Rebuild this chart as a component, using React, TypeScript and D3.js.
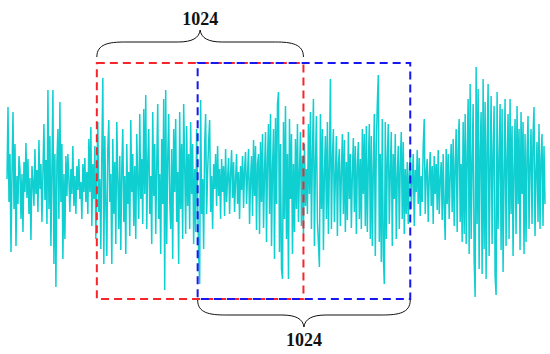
import React, { useEffect, useRef } from 'react';
import * as d3 from 'd3';

// signal amplitude, one sample per pixel column (up = positive)
const signal: number[] = [
  5, 77, -18, 30, -68, 12, 72, -25, 40, -62, 8, -20, 28, 15, -35, 10, -48, 22, -8, 41,
  -14, 25, -30, 6, -56, 18, 2, -22, 35, -10, 14, -28, 44, -5, 20, -38, 12, 60, -16, 24,
  -40, 94, -25, 48, -62, 15, 94, -80, 30, -103, 22, 55, -35, 82, -18, 40, -75, 10, -55, 28,
  -12, 30, 5, -28, 15, -10, 38, -22, 8, -30, 18, -6, 25, -15, 2, -35, 20, -8, 26, -18,
  12, -30, 45, -8, 57, -42, 20, -15, 38, -55, 10, 62, -28, 5, -65, 30, 106, -80, 48, -20,
  -72, 35, 64, -18, 10, -80, 45, -30, 22, -60, 62, 5, -45, 28, -66, 15, 55, -38, 8, -70,
  40, -20, 12, -52, 64, -8, 30, -42, 18, -55, 50, 2, -35, 70, -15, 25, -40, 75, -10, 89,
  -45, 20, 55, -30, 8, -60, 72, -12, 40, -50, 18, 80, -35, 10, -70, 45, -20, 85, -106, 94,
  -60, 25, 70, -15, -45, 35, -75, 55, -8, 65, -38, 12, -80, 72, -25, 40, -55, 80, 20, -50,
  58, -22, 30, -45, 62, -10, 40, -60, 15, -48, 55, -18, -70, -100, 84, -30, 5, -65, 38, 70,
  -30, 12, 42, 64, -28, 8, -45, 20, -5, 30, -22, 38, -12, 15, -35, 25, -8, 18, -32, 35,
  -18, 6, 26, -30, 10, 34, -14, 22, -28, 4, 30, -20, 12, -35, 18, -6, 28, -24, 15, 32,
  -20, 10, 35, -40, 5, 28, -32, 44, -12, 38, -46, 20, 30, -50, 42, -18, 50, -44, 12, 52,
  -58, 25, 60, -30, 70, -62, 15, 55, -75, 66, -20, 80, 92, -68, 40, -85, -95, 62, -35, 78,
  -55, 30, -95, 65, -15, 50, -70, 20, -48, 45, -25, 60, -38, 10, 52, -42, 28, -50, 40, -22,
  15, -30, 60, -10, 72, -45, 30, 85, -62, 20, 68, -38, -58, -83, 70, -25, 55, -66, 10, 48,
  -35, 62, -50, 18, 105, -45, 25, 55, -38, 8, 48, -52, 20, 35, -42, 12, 50, -30, 44, -48,
  22, -36, 52, -15, 30, -44, 10, 46, -28, 38, -50, 18, 42, -35, 25, -45, 55, -10, 50, -42,
  58, -48, 20, 60, -55, 48, -62, 15, 70, -72, 40, 80, 109, -58, 30, -78, 65, -70, -100, 62,
  -55, 25, 60, -40, 12, 52, -62, 30, -15, 50, -55, 8, 38, -45, 20, 52, -35, 42, -50, 15,
  -30, 22, -40, 10, 35, -25, 5, 30, -42, 14, -8, 34, -20, 26, -32, 8, -18, 38, 65, -30,
  12, 25, -38, 6, 32, -22, 18, -40, 28, -10, 20, -26, 34, -30, 5, 22, -36, 30, -24, -56,
  35, -20, 30, -35, 10, 40, -28, 45, -42, 18, 55, -48, 36, 65, -38, 20, -58, 62, -50, 70,
  -60, 30, 85, -70, 100, -55, 20, 80, -75, -113, 117, -40, 95, -85, 35, 72, -90, 105, -65, 82,
  -95, 40, 100, -72, 15, 88, -60, 30, 78, -92, -111, 92, -45, 20, 80, -66, 75, -88, 10, 85,
  -62, 25, 70, -55, 85, -30, 58, -72, 15, 65, -50, 78, -20, 55, -66, 72, -10, 62, -70, 50,
  -58, 30, 68, -45, 20, 55, -40, 48, 77, -52, 12, 42, -38, 60, -45, 25, 50, -42, 38, -20,
];

// two windows of 1024 samples, given as sample index ranges of the trace above
const windows = [
  { start: 90, end: 297, color: '#f5262b', brace: 'top' },
  { start: 191, end: 404, color: '#1717f0', brace: 'bottom' },
];
const windowLabel = '1024';

const App = () => {
  const svgRef = useRef<SVGSVGElement>(null);

  useEffect(() => {
    const width = 550;
    const height = 354;
    const svg = d3.select(svgRef.current);
    svg.selectAll('*').remove();
    svg.attr('width', width).attr('height', height);

    const x = d3.scaleLinear()
      .domain([0, signal.length - 1])
      .range([7, 545]);

    const y = d3.scaleLinear()
      .domain([-120, 120])
      .range([304, 64]);

    const line = d3.line<number>()
      .x((d, i) => x(i))
      .y(d => y(d));

    svg.append('path')
      .datum(signal)
      .attr('d', line)
      .attr('fill', 'none')
      .attr('stroke', '#0fcfd1')
      .attr('stroke-width', 1.5)
      .attr('stroke-linejoin', 'bevel');

    const boxTop = 63;
    const boxBottom = 299;

    windows.forEach(w => {
      const x0 = x(w.start);
      const x1 = x(w.end);
      svg.append('rect')
        .attr('x', x0)
        .attr('y', boxTop)
        .attr('width', x1 - x0)
        .attr('height', boxBottom - boxTop)
        .attr('fill', 'none')
        .attr('stroke', w.color)
        .attr('stroke-width', 2)
        .attr('stroke-dasharray', '8,5');

      // curly brace over / under the window
      const xc = (x0 + x1) / 2;
      const top = w.brace === 'top';
      const s = top ? -1 : 1;
      const yb = top ? boxTop - 6 : boxBottom + 1;
      const yf = yb + s * 15;
      const yt = yf + s * 12;
      const d = `M${x0},${yb} C${x0},${yf - s * 2} ${x0 + 12},${yf} ${x0 + 28},${yf}`
        + ` L${xc - 22},${yf} C${xc - 8},${yf} ${xc - 1},${yf + s * 4} ${xc},${yt}`
        + ` C${xc + 1},${yf + s * 4} ${xc + 8},${yf} ${xc + 22},${yf}`
        + ` L${x1 - 28},${yf} C${x1 - 12},${yf} ${x1},${yf - s * 2} ${x1},${yb}`;
      svg.append('path')
        .attr('d', d)
        .attr('fill', 'none')
        .attr('stroke', '#111')
        .attr('stroke-width', 1);

      svg.append('text')
        .attr('x', xc)
        .attr('y', top ? yt - 5 : yt + 19)
        .attr('text-anchor', 'middle')
        .attr('font-family', '"Liberation Serif", "Times New Roman", serif')
        .attr('font-weight', 'bold')
        .attr('font-size', 18)
        .attr('fill', '#111')
        .text(windowLabel);
    });
  }, []);

  return (
    <div style={{ position: 'absolute', left: 0, top: 0, width: 550, height: 354, background: '#fff' }}>
      <svg ref={svgRef}></svg>
    </div>
  );
};

export default App;
